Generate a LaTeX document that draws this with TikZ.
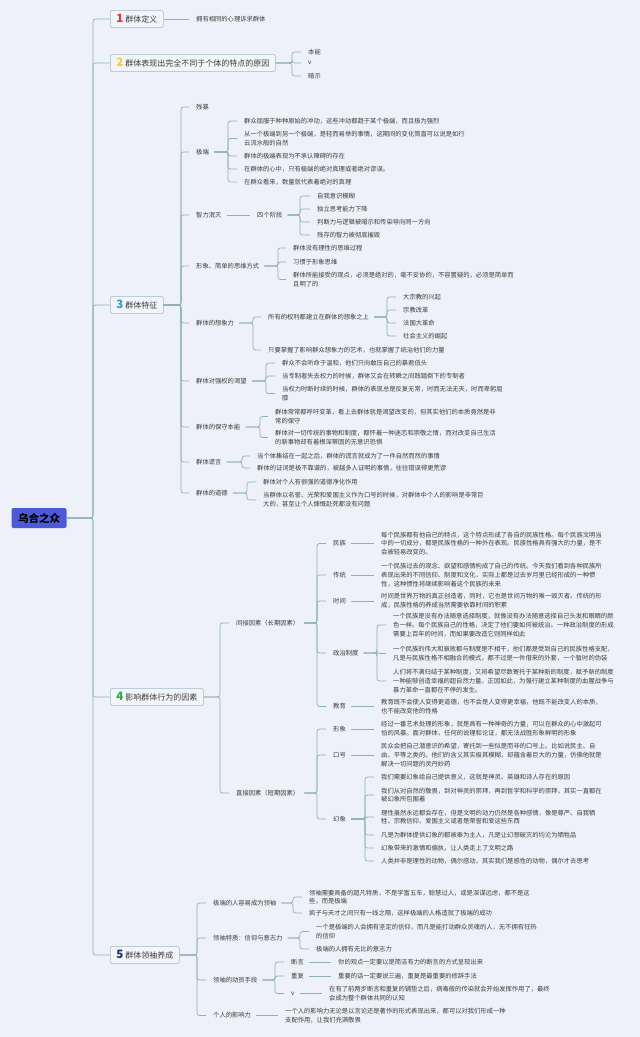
\documentclass[tikz,border=0pt]{standalone}
\usepackage{fontspec}
\setmainfont{Noto Sans CJK SC}
\definecolor{bgc}{HTML}{EEF1F9}
\definecolor{linec}{HTML}{8DB2B4}
\definecolor{txtc}{HTML}{3C3C3C}
\definecolor{boxline}{HTML}{A3B8C8}
\definecolor{boxfill}{HTML}{F2F5FA}
\definecolor{rootc}{HTML}{4A5AD8}
\definecolor{nred}{HTML}{E2323F}
\definecolor{nyel}{HTML}{F3CF2E}
\definecolor{nblue}{HTML}{2E9BD8}
\definecolor{ngreen}{HTML}{2FA84F}
\definecolor{nnavy}{HTML}{1F2D6E}
\tikzset{
  root/.style={fill=rootc, rounded corners=2pt, minimum width=55pt, minimum height=20pt,
    font=\fontsize{10.5}{12}\selectfont\bfseries, text=black},
  topic/.style={anchor=west, draw=boxline, fill=boxfill, rounded corners=1.5pt, line width=0.5pt,
    minimum height=17pt, inner xsep=6pt, font=\fontsize{8}{9}\selectfont, text=txtc},
  leaf/.style={anchor=west, inner xsep=1pt, inner ysep=0.5pt, align=left,
    font=\fontsize{6.3}{8.7}\selectfont, text=txtc},
  conn/.style={draw=linec, line width=0.7pt, rounded corners=2.5pt, shorten <=4pt, shorten >=6pt},
}
\newcommand\numb[2]{{\fontsize{11.5}{11}\selectfont\bfseries\color{#1}#2}\hspace{2pt}}
\newcommand\fork[4][]{\foreach \ch in {#4} \draw[conn,#1] (#2.east) -- (#2.east -| #3,0) |- (\ch.west);}
\begin{document}
\begin{tikzpicture}[x=1pt,y=-1pt]
    % Fond et cadre
    \fill[bgc] (0,0) rectangle (640,1037);
    \useasboundingbox (0,0) rectangle (640,1037);

    % Sujet central et branches principales
    \node[root] (r) at (39,518) {乌合之众};
    \node[topic] (b1) at (110,19) {\numb{nred}{1}群体定义};
    \node[topic] (b2) at (110,63) {\numb{nyel}{2}群体表现出完全不同于个体的特点的原因};
    \node[topic] (b3) at (110,305) {\numb{nblue}{3}群体特征};
    \node[topic] (b4) at (110,697) {\numb{ngreen}{4}影响群体行为的因素};
    \node[topic] (b5) at (110,955) {\numb{nnavy}{5}群体领袖养成};
    \fork[shorten <=0pt, shorten >=0pt]{r}{93}{b1,b2,b3,b4,b5}

    % 1
    \node[leaf] (d1) at (195,19) {拥有相同的心理诉求群体};
    \draw[conn,shorten <=0pt] (b1.east) -- (d1.west);

    % 2
    \node[leaf] (e1) at (307,52) {本能};
    \node[leaf] (e2) at (307,63) {v};
    \node[leaf] (e3) at (307,76) {暗示};
    \fork[shorten <=0pt]{b2}{292}{e1,e2,e3}

    % 3
    \node[leaf] (s1) at (195,107) {残暴};
    \node[leaf] (s2) at (195,152) {极端};
    \node[leaf] (s3) at (195,215) {智力泯灭};
    \node[leaf] (s4) at (195,266) {形象、简单的思维方式};
    \node[leaf] (s5) at (195,323) {群体的想象力};
    \node[leaf] (s6) at (195,381) {群体对强权的渴望};
    \node[leaf] (s7) at (195,427) {群体的保守本能};
    \node[leaf] (s8) at (195,462) {群体谎言};
    \node[leaf] (s9) at (195,493) {群体的道德};
    \fork[shorten <=0pt]{b3}{181}{s1,s2,s3,s4,s5,s6,s7,s8,s9}

    \node[leaf] (s2a) at (243,121) {群众屈服于种种原始的冲动，这些冲动都趋于某个极端，而且极为强烈};
    \node[leaf] (s2b) at (243,138.5) {从一个极端到另一个极端，是轻而易举的事情，这期间的变化简直可以说是如行\\云流水般的自然};
    \node[leaf] (s2c) at (243,156) {群体的极端表现为不承认障碍的存在};
    \node[leaf] (s2d) at (243,169) {在群体的心中，只有极端的绝对真理或者绝对谬误。};
    \node[leaf] (s2e) at (243,182) {在群众看来，数量就代表着绝对的真理};
    \fork{s2}{228}{s2a,s2b,s2c,s2d,s2e}

    \node[leaf] (q) at (256,215) {四个阶段};
    \draw[conn] (s3.east) -- (q.west);
    \node[leaf] (q1) at (316,196) {自我意识模糊};
    \node[leaf] (q2) at (316,209) {独立思考能力下降};
    \node[leaf] (q3) at (316,222) {判断力与逻辑被暗示和传染导向同一方向};
    \node[leaf] (q4) at (316,235) {残存的智力被彻底摧毁};
    \fork{q}{300}{q1,q2,q3,q4}

    \node[leaf] (s4a) at (292,248) {群体没有理性的思维过程};
    \node[leaf] (s4b) at (292,262) {习惯于形象思维};
    \node[leaf] (s4c) at (292,279.5) {群体所能接受的观点，必须是绝对的，毫不妥协的，不容置疑的，必须是简单而\\且明了的};
    \fork{s4}{278}{s4a,s4b,s4c}

    \node[leaf] (s5a) at (267,317) {所有的权利都建立在群体的想象之上};
    \node[leaf] (s5b) at (267,350) {只要掌握了影响群众想象力的艺术，也就掌握了统治他们的力量};
    \fork{s5}{253}{s5a,s5b}
    \node[leaf] (p1) at (402,297) {大宗教的兴起};
    \node[leaf] (p2) at (402,310) {宗教改革};
    \node[leaf] (p3) at (402,323) {法国大革命};
    \node[leaf] (p4) at (402,336) {社会主义的崛起};
    \fork{s5a}{387}{p1,p2,p3,p4}

    \node[leaf] (s6a) at (281,363) {群众不会听命于温和，他们只向敢压自己的暴君低头};
    \node[leaf] (s6b) at (281,376) {当专制者失去权力的时候，群体又会在转瞬之间践踏倒下的专制者};
    \node[leaf] (s6c) at (281,393.5) {当权力时断时续的时候，群体的表现总是反复无常，时而无法无天，时而卑躬屈\\膝};
    \fork{s6}{266}{s6a,s6b,s6c}

    \node[leaf] (s7a) at (274,416.5) {群体常常都呼吁变革，看上去群体就是渴望改变的，但其实他们的本质竟然是非\\常的保守};
    \node[leaf] (s7b) at (274,437.5) {群体对一切传统的事物和制度，都怀着一种迷恋和崇敬之情，而对改变自己生活\\的新事物却有着根深蒂固的无意识恐惧};
    \fork{s7}{260}{s7a,s7b}

    \node[leaf] (s8a) at (256,456) {当个体集结在一起之后，群体的谎言就成为了一件自然而然的事情};
    \node[leaf] (s8b) at (256,468) {群体的证词是极不靠谱的，被越多人证明的事情，往往错误得更荒谬};
    \fork{s8}{242}{s8a,s8b}

    \node[leaf] (s9a) at (262,482) {群体对个人有很强的道德净化作用};
    \node[leaf] (s9b) at (262,500) {当群体以名誉、光荣和爱国主义作为口号的时候，对群体中个人的影响是非常巨\\大的，甚至让个人慷慨赴死都没有问题};
    \fork{s9}{247}{s9a,s9b}

    % 4
    \node[leaf] (f1) at (235,623) {间接因素（长期因素）};
    \node[leaf] (f2) at (235,793) {直接因素（短期因素）};
    \fork[shorten <=0pt]{b4}{220}{f1,f2}

    \node[leaf] (m1) at (332,543.5) {民族};
    \node[leaf] (m2) at (332,575) {传统};
    \node[leaf] (m3) at (332,601) {时间};
    \node[leaf] (m4) at (332,653) {政治制度};
    \node[leaf] (m5) at (332,706.5) {教育};
    \fork{f1}{317}{m1,m2,m3,m4,m5}

    \node[leaf] (m1t) at (380,543.5) {每个民族都有他自己的特点，这个特点形成了各自的民族性格。每个民族文明当\\中的一切成分，都是民族性格的一种外在表现。民族性格具有强大的力量，是不\\会被轻易改变的。};
    \node[leaf] (m2t) at (380,575) {一个民族过去的观念、欲望和感情构成了自己的传统。今天我们看到各种民族所\\表现出来的不同信仰、制度和文化，实际上都是过去岁月里已经形成的一种惯\\性，这种惯性将继续影响着这个民族的未来};
    \node[leaf] (m3t) at (380,601) {时间是世界万物的真正创造者，同时，它也是世间万物的唯一毁灭者。传统的形\\成，民族性格的养成当然需要依靠时间的积累};
    \node[leaf] (m5t) at (380,706.5) {教育既不会使人变得更道德，也不会是人变得更幸福，他既不能改变人的本质，\\也不能改变他的性格};
    \foreach \a in {m1,m2,m3,m5}
        \draw[conn] (\a.east) -- (\a t.west);

    \node[leaf] (m4a) at (392,625) {一个民族是没有办法随意选择制度，就像没有办法随意选择自己头发和眼睛的颜\\色一样。每个民族自己的性格，决定了他们要如何被统治。一种政治制度的形成\\需要上百年的时间，而如果要改造它则同样如此};
    \node[leaf] (m4b) at (392,653.5) {一个民族的伟大和衰败都与制度是不相干，他们都是受到自己的民族性格支配，\\凡是与民族性格不相融合的模式，都不过是一件借来的外套，一个暂时的伪装};
    \node[leaf] (m4c) at (392,681) {人们将不满归结于某种制度，又将希望尽数寄托于某种新的制度，赋予新的制度\\一种能够创造幸福的超自然力量。正因如此，为强行建立某种制度的血腥战争与\\暴力革命一直都在不停的发生。};
    \fork{m4}{377}{m4a,m4b,m4c}

    \node[leaf] (h1) at (332,729) {形象};
    \node[leaf] (h2) at (332,755) {口号};
    \node[leaf] (h3) at (332,819) {幻象};
    \fork{f2}{317}{h1,h2,h3}
    \node[leaf] (h1t) at (380,729) {经过一番艺术处理的形象，就是具有一种神奇的力量，可以在群众的心中激起可\\怕的风暴。面对群体，任何的说理和论证，都无法战胜形象鲜明的形象};
    \node[leaf] (h2t) at (380,755) {民众会把自己潜意识的希望，寄托到一些似是而非的口号上。比如说民主、自\\由、平等之类的。他们的含义其实极其模糊，却蕴含着巨大的力量，仿佛他就是\\解决一切问题的灵丹妙药};
    \draw[conn] (h1.east) -- (h1t.west);
    \draw[conn] (h2.east) -- (h2t.west);

    \node[leaf] (h3a) at (380,777) {我们需要幻象给自己提供意义，这就是神灵、英雄和诗人存在的原因};
    \node[leaf] (h3b) at (380,795) {我们从对自然的敬畏，到对神灵的崇拜，再到哲学和科学的崇拜，其实一直都在\\被幻象所包围着};
    \node[leaf] (h3c) at (380,817) {理性虽然永远都会存在，但是文明的动力仍然是各种感情，像是尊严、自我牺\\牲、宗教信仰、爱国主义或者是荣誉和爱这些东西};
    \node[leaf] (h3d) at (380,835) {凡是为群体提供幻象的都被奉为主人，凡是让幻想破灭的均沦为牺牲品};
    \node[leaf] (h3e) at (380,848) {幻象带来的激情和偏执，让人类走上了文明之路};
    \node[leaf] (h3f) at (380,861) {人类并非是理性的动物，偶尔感动，其实我们是感性的动物，偶尔才去思考};
    \fork{h3}{365}{h3a,h3b,h3c,h3d,h3e,h3f}

    % 5
    \node[leaf] (g1) at (212,903) {极端的人容易成为领袖};
    \node[leaf] (g2) at (212,938) {领袖特质：信仰与意志力};
    \node[leaf] (g3) at (212,980) {领袖的动员手段};
    \node[leaf] (g4) at (212,1015.5) {个人的影响力};
    \fork[shorten <=0pt]{b5}{197}{g1,g2,g3,g4}

    \node[leaf] (g1a) at (308,897) {领袖需要具备的超凡特质，不是学富五车，聪慧过人，或是深谋远虑，都不是这\\些，而是极端};
    \node[leaf] (g1b) at (308,913) {疯子与天才之间只有一线之隔，这样极端的人格造就了极端的成功};
    \fork{g1}{293}{g1a,g1b}

    \node[leaf] (g2a) at (315,931.5) {一个是极端的人会拥有坚定的信仰，而凡是能打动群众灵魂的人，无不拥有狂热\\的信仰};
    \node[leaf] (g2b) at (315,949) {极端的人拥有无比的意志力};
    \fork{g2}{300}{g2a,g2b}

    \node[leaf] (k1) at (290,962) {断言};
    \node[leaf] (k2) at (290,976) {重复};
    \node[leaf] (k3) at (290,993.5) {v};
    \fork{g3}{275}{k1,k2,k3}
    \node[leaf] (k1t) at (337,962) {你的观点一定要以是简洁有力的断言的方式呈现出来};
    \node[leaf] (k2t) at (337,976) {重要的话一定要说三遍，重复是最重要的修辞手法};
    \node[leaf] (k3t) at (328,993.5) {在有了前两步断言和重复的铺垫之后，病毒般的传染就会开始发挥作用了，最终\\会成为整个群体共同的认知};
    \foreach \a in {k1,k2,k3}
        \draw[conn] (\a.east) -- (\a t.west);

    \node[leaf] (g4t) at (284,1015.5) {一个人的影响力无论是以言论还是著作的形式表现出来，都可以对我们形成一种\\支配作用，让我们充满敬畏};
    \draw[conn] (g4.east) -- (g4t.west);
\end{tikzpicture}
\end{document}
